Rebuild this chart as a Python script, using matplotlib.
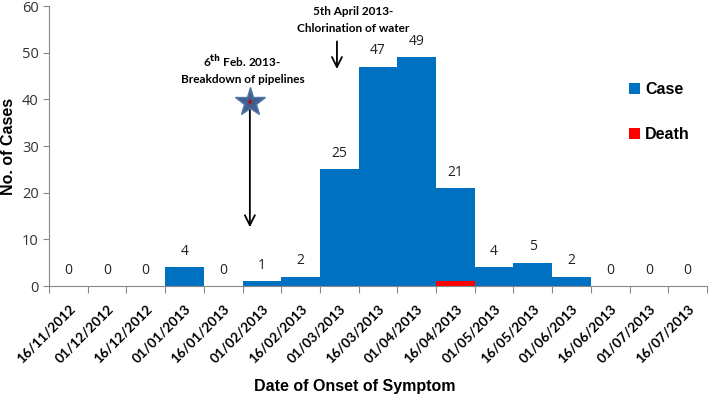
import matplotlib.pyplot as plt
import numpy as np

# data
dates = ['16/11/2012', '01/12/2012', '16/12/2012', '01/01/2013', '16/01/2013',
         '01/02/2013', '16/02/2013', '01/03/2013', '16/03/2013', '01/04/2013',
         '16/04/2013', '01/05/2013', '16/05/2013', '01/06/2013', '16/06/2013',
         '01/07/2013', '16/07/2013']
cases = [0, 0, 0, 4, 0, 1, 2, 25, 47, 49, 21, 4, 5, 2, 0, 0, 0]
deaths = [0, 0, 0, 0, 0, 0, 0, 0, 0, 0, 1, 0, 0, 0, 0, 0, 0]

blue = '#0070C0'
red = '#FF0000'

fig = plt.figure(figsize=(7.09, 4.0), dpi=100)
ax = fig.add_axes([0.0691, 0.285, 0.928, 0.70])

x = np.arange(len(dates))
ax.bar(x, cases, width=1.0, color=blue, label='Case')
ax.bar(x, deaths, width=1.0, color=red, label='Death')

# value labels above the bars
for xi, v in zip(x, cases):
    ax.text(xi, v + 1.8, str(v), ha='center', va='bottom', fontsize=10,
            family='Open Sans', color='#222222')

ax.set_xlim(-0.5, len(dates) - 0.5)
ax.set_ylim(0, 60)
ax.set_yticks(range(0, 61, 10))

# ticks at bin edges, labels at bin centres
ax.set_xticks(np.arange(len(dates) + 1) - 0.5)
ax.set_xticklabels([])
ax.set_xticks(x, minor=True)
ax.set_xticklabels(dates, minor=True, rotation=45, ha='right',
                   rotation_mode='anchor', fontsize=9.8, fontweight='bold',
                   family='Lato')
ax.tick_params(axis='x', which='major', length=5, color='#888888')
ax.tick_params(axis='x', which='minor', length=0, pad=12)
ax.tick_params(axis='y', length=4, color='#888888', labelsize=10.5,
               labelcolor='#333333')
for lab in ax.get_yticklabels():
    lab.set_family('Open Sans')

for s in ['top', 'right']:
    ax.spines[s].set_visible(False)
for s in ['left', 'bottom']:
    ax.spines[s].set_color('#888888')

ax.set_ylabel('No. of Cases', fontsize=11.5, fontweight='bold',
              family='Liberation Sans', labelpad=4)
fig.text(0.5, 1 - 387 / 400, 'Date of Onset of Symptom', ha='center',
         va='center', fontsize=11.5, fontweight='bold',
         family='Liberation Sans')

# star + arrow for pipeline breakdown
ax.annotate('', xy=(4.69, 12), xytext=(4.69, 39.5),
            arrowprops=dict(arrowstyle='->', color='black', lw=1.3,
                            mutation_scale=18))
ax.plot(4.69, 39.5, marker='*', markersize=22, color='#40618F',
        markeredgecolor='#5577a8', zorder=5)
ax.plot(4.69, 39.5, marker='*', markersize=5, color='#C00000',
        markeredgewidth=0, zorder=6)
ax.text(4.5, 46.5, r'6$^{\mathbf{th}}$ Feb. 2013-' + '\nBreakdown of pipelines',
        ha='center', va='center', fontsize=8.5, fontweight='bold',
        family='Lato', linespacing=1.6)

# arrow for chlorination
ax.annotate('', xy=(6.94, 45.9), xytext=(6.94, 53),
            arrowprops=dict(arrowstyle='->', color='black', lw=1.3,
                            mutation_scale=18))
ax.text(7.35, 57.0, '5th April 2013-\nChlorination of water',
        ha='center', va='center', fontsize=8.5, fontweight='bold',
        family='Lato', linespacing=1.6, clip_on=False)

ax.legend(loc='upper left', bbox_to_anchor=(0.86, 0.78), frameon=False,
          prop={'family': 'Liberation Sans', 'weight': 'bold', 'size': 11.5},
          handlelength=0.7, handleheight=0.7, handletextpad=0.3,
          labelspacing=1.9)

fig.savefig('out.png', dpi=100)
